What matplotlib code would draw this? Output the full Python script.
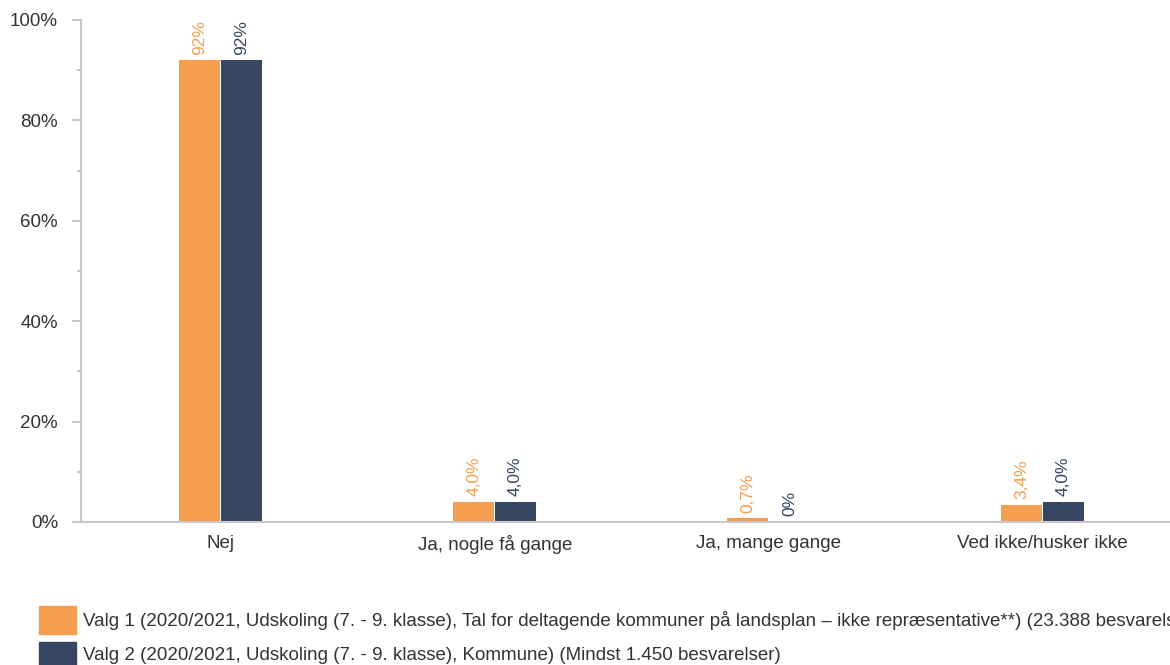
import matplotlib
matplotlib.use("Agg")
import matplotlib.pyplot as plt
import numpy as np
from matplotlib.patches import Rectangle
from matplotlib.ticker import MultipleLocator, PercentFormatter

plt.rcParams['font.family'] = ['Liberation Sans', 'DejaVu Sans']

# svarkategorier og andele (%)
kategorier = ["Nej", "Ja, nogle få gange", "Ja, mange gange", "Ved ikke/husker ikke"]
valg1 = [92, 4.0, 0.7, 3.4]
valg2 = [92, 4.0, 0.0, 4.0]
etiket1 = ["92%", "4,0%", "0,7%", "3,4%"]
etiket2 = ["92%", "4,0%", "0%", "4,0%"]
navne = [
    "Valg 1 (2020/2021, Udskoling (7. - 9. klasse), Tal for deltagende kommuner på landsplan – ikke repræsentative**) (23.388 besvarelser)",
    "Valg 2 (2020/2021, Udskoling (7. - 9. klasse), Kommune) (Mindst 1.450 besvarelser)",
]

orange = "#F59E4E"
navy = "#374763"
graa = "#C8C8C8"
tekst = "#333333"

W, H = 1170, 665
fig = plt.figure(figsize=(W / 100, H / 100), dpi=100)
ax = fig.add_axes([81 / W, 1 - 522 / H, 1096 / W, 502 / H])

x = np.arange(len(kategorier))
b = 0.15
s1 = ax.bar(x - 0.076, valg1, width=b, color=orange, label=navne[0])
s2 = ax.bar(x + 0.076, valg2, width=b, color=navy, label=navne[1])

for serie, etiketter, farve in [(s1, etiket1, orange), (s2, etiket2, navy)]:
    for rect, txt in zip(serie, etiketter):
        ax.annotate(txt, (rect.get_x() + rect.get_width() / 2, rect.get_height()),
                    xytext=(0, 4), textcoords="offset points", rotation=90,
                    ha="center", va="bottom", fontsize=12.5, color=farve)

ax.set_xlim(-0.51, 3.49)
ax.set_ylim(0, 100)
ax.yaxis.set_major_locator(MultipleLocator(20))
ax.yaxis.set_minor_locator(MultipleLocator(10))
ax.yaxis.set_major_formatter(PercentFormatter(decimals=0))
ax.set_xticks(x)
ax.set_xticklabels(kategorier)

for side in ["top", "right"]:
    ax.spines[side].set_visible(False)
for side in ["left", "bottom"]:
    ax.spines[side].set_color(graa)
    ax.spines[side].set_linewidth(1.5)

ax.tick_params(axis="y", which="major", length=6.5, width=1.5, color=graa,
               labelsize=13.5, labelcolor=tekst, pad=10)
ax.tick_params(axis="y", which="minor", length=3, width=1.5, color=graa)
ax.tick_params(axis="x", length=0, labelsize=13.5, labelcolor=tekst, pad=9)

# forklaring under grafen: farvefelt + tekst pr. serie
for i, (serie, navn) in enumerate(zip([s1, s2], navne)):
    yc = 620 + 36 * i
    fig.add_artist(Rectangle((39 / W, 1 - (yc + 14) / H), 37 / W, 28 / H,
                             transform=fig.transFigure,
                             color=serie.patches[0].get_facecolor()))
    fig.text(83 / W, 1 - yc / H, navn, ha="left", va="center",
             fontsize=13.5, color=tekst)

fig.savefig("out.png", dpi=100)
